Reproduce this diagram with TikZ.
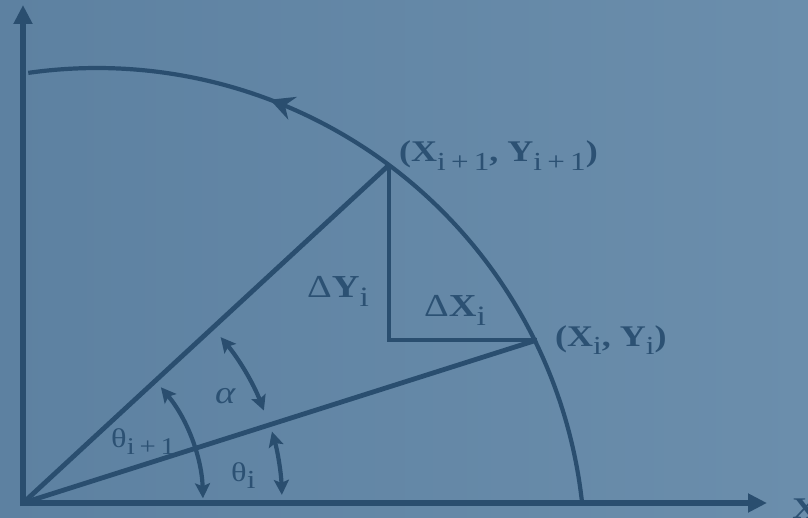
\documentclass[tikz,border=0pt]{standalone}
\usepackage{fontspec}
\setmainfont{Liberation Serif}
\usetikzlibrary{arrows.meta,decorations.markings}
\definecolor{bgl}{HTML}{5D81A1}
\definecolor{bgr}{HTML}{6B8EAC}
\definecolor{ink}{HTML}{2A4E6F}
\definecolor{txt}{HTML}{2C5173}
\newcommand\subx[2][26]{\raisebox{-0.28em}{\fontsize{#1}{#1}\selectfont\mdseries #2}}
\begin{document}
\begin{tikzpicture}[x=1pt,y=1pt,
  axisline/.style={draw=ink,line width=6pt,-{Triangle[length=19pt,width=18pt]}},
  mainline/.style={draw=ink,line width=4.8pt},
  circarc/.style={draw=ink,line width=4.2pt},
  angarc/.style={draw=ink,line width=4.2pt,{Stealth[length=15pt,width=15pt,inset=3pt]}-{Stealth[length=15pt,width=15pt,inset=3pt]}},
  lbl/.style={text=txt,inner sep=0pt,anchor=base west,xscale=1.2,font=\fontsize{30}{30}\selectfont}
]
\useasboundingbox (0,0) rectangle (808,517);
\shade[left color=bgl,right color=bgr] (0,0) rectangle (808,517);
% key points
\coordinate (O) at (23,14);
\coordinate (Ostart) at (23,11);
\coordinate (Xstart) at (20,14);
\coordinate (Ytop) at (23,512);
\coordinate (Xend) at (767,14);
\coordinate (P1) at (389,352);
\coordinate (P0) at (537,177);
\coordinate (C) at (389,177);
\coordinate (Ctr) at (97,-39);
% axes
\draw[axisline] (Ostart) -- (Ytop);
\draw[axisline] (Xstart) -- (Xend);
% big arc
\draw[circarc,postaction={decorate},decoration={markings,
  mark=at position 0.686 with {\arrow{Stealth[length=24pt,width=24pt,inset=8pt]}}}]
  ([shift={(6.2:488)}]Ctr) arc[start angle=6.2,end angle=98.1,radius=488];
% radius lines and triangle
\draw[mainline] (O) -- (P1);
\draw[mainline] (O) -- (P0);
\draw[mainline,line join=miter] (P1) -- (C) -- (P0);
% angle arcs
\draw[angarc] ([shift={(1.5:180)}]O) arc[start angle=1.5,end angle=40,radius=180];
\draw[angarc] ([shift={(1.8:259)}]O) arc[start angle=1.8,end angle=16,radius=259];
\draw[angarc] ([shift={(21:258)}]O) arc[start angle=21,end angle=40,radius=258];
% labels
\node[lbl] (l1) at (399,355) {\bfseries (X\subx{i\,+\,1}, Y\subx{i\,+\,1})};
\node[lbl] (l0) at (555,171) {\bfseries (X\subx{i}, Y\subx{i})};
\node[lbl,font=\fontsize{32}{32}\selectfont] (dy) at (307,219) {Δ\textbf{Y}\subx[28]{i}};
\node[lbl,font=\fontsize{32}{32}\selectfont] (dx) at (424,200) {Δ\textbf{X}\subx[28]{i}};
\node[lbl,font=\fontsize{27}{27}\selectfont] (t1) at (111,70) {θ\subx[24]{i\,+\,1}};
\node[lbl,font=\fontsize{27}{27}\selectfont] (t0) at (231,36) {θ\subx[26]{i}};
\node[lbl,font=\fontsize{32}{32}\selectfont\itshape] (al) at (215,114) {α};
\node[lbl,font=\fontsize{30}{30}\selectfont\bfseries] (xl) at (792,-1) {X};
\end{tikzpicture}
\end{document}
